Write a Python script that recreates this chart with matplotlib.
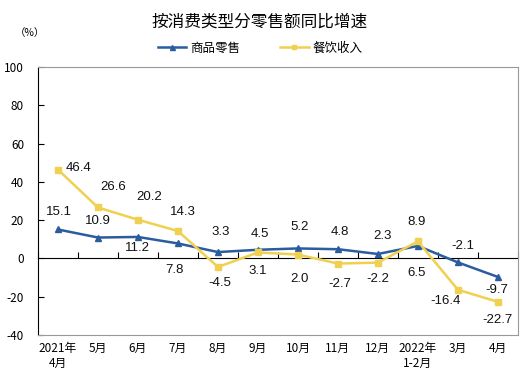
import numpy as np
import matplotlib.pyplot as plt

# categories and values
months = ['2021年\n4月', '5月', '6月', '7月', '8月', '9月', '10月', '11月',
          '12月', '2022年\n1-2月', '3月', '4月']
goods = [15.1, 10.9, 11.2, 7.8, 3.3, 4.5, 5.2, 4.8, 2.3, 6.5, -2.1, -9.7]
catering = [46.4, 26.6, 20.2, 14.3, -4.5, 3.1, 2.0, -2.7, -2.2, 8.9, -16.4, -22.7]
yticks = [-40, -20, 0, 20, 40, 60, 80, 100]

# label offsets in pixels (dx, dy), positive dy is up
goods_off = [(1, 17), (0, 17), (0, -11), (-3, -27), (3, 20), (2, 16),
             (2, 21), (2, 17), (5, 18), (-1, -27), (5, 16), (-1, -13)]
catering_off = [(21, 2), (15, 20), (11, 23), (5, 19), (2, -16), (0, -19),
                (2, -24), (2, -20), (0, -16), (-1, 19), (-12, -11), (0, -18)]

cjk = ['Noto Sans CJK SC', 'DejaVu Sans']
num = ['Liberation Sans', 'Noto Sans CJK SC']
plt.rcParams['font.family'] = cjk

blue = '#2B5C9E'
yellow = '#F0D050'

fig = plt.figure(figsize=(5.2, 3.85), dpi=100)
ax = fig.add_axes([0.073, 0.130, 0.923, 0.696])

x = np.arange(len(months))
ax.plot(x, goods, color=blue, lw=1.8, marker='^', ms=4.5, label='商品零售', zorder=3)
ax.plot(x, catering, color=yellow, lw=1.8, marker='s', ms=4, label='餐饮收入', zorder=3)

for i in range(len(x)):
    ax.annotate(f'{goods[i]:.1f}', (x[i], goods[i]), xytext=goods_off[i],
                textcoords='offset pixels', ha='center', va='center',
                fontsize=9.5, family=num, color='#111111')
    ax.annotate(f'{catering[i]:.1f}', (x[i], catering[i]), xytext=catering_off[i],
                textcoords='offset pixels', ha='center', va='center',
                fontsize=9.5, family=num, color='#111111')

ax.set_xlim(-0.5, len(months) - 0.5)
ax.set_ylim(-40, 100)
ax.set_yticks(yticks)
ax.set_yticklabels([str(v) for v in yticks], fontsize=8.5)
ax.tick_params(axis='y', direction='in', length=4, width=0.8, pad=10)

ax.set_xticks(x)
ax.set_xticklabels(months, fontsize=8.5, linespacing=1.25)
ax.tick_params(axis='x', length=0, pad=5)

for s in ['top', 'right', 'bottom']:
    ax.spines[s].set_color('#999999')
    ax.spines[s].set_linewidth(0.8)
ax.spines['left'].set_color('black')
ax.spines['left'].set_linewidth(0.8)

# zero line with tick marks between categories
zero = ax.secondary_xaxis(0, transform=ax.transData)
zero.set_xticks(np.arange(len(months) + 1) - 0.5)
zero.set_xticklabels([])
zero.tick_params(direction='in', length=4, width=0.8)
zero.spines['bottom'].set_linewidth(0.8)

fig.text(0.5, 0.943, '按消费类型分零售额同比增速', ha='center', va='center', fontsize=12)
fig.text(0.058, 0.913, '（%）', ha='center', va='center', fontsize=7.5)
fig.legend(loc='center', bbox_to_anchor=(0.5, 0.875), ncol=2, frameon=False,
           fontsize=9, handlelength=2.3, columnspacing=3.2, handletextpad=0.3,
           markerscale=0.8)

fig.savefig('out.png', dpi=100)
